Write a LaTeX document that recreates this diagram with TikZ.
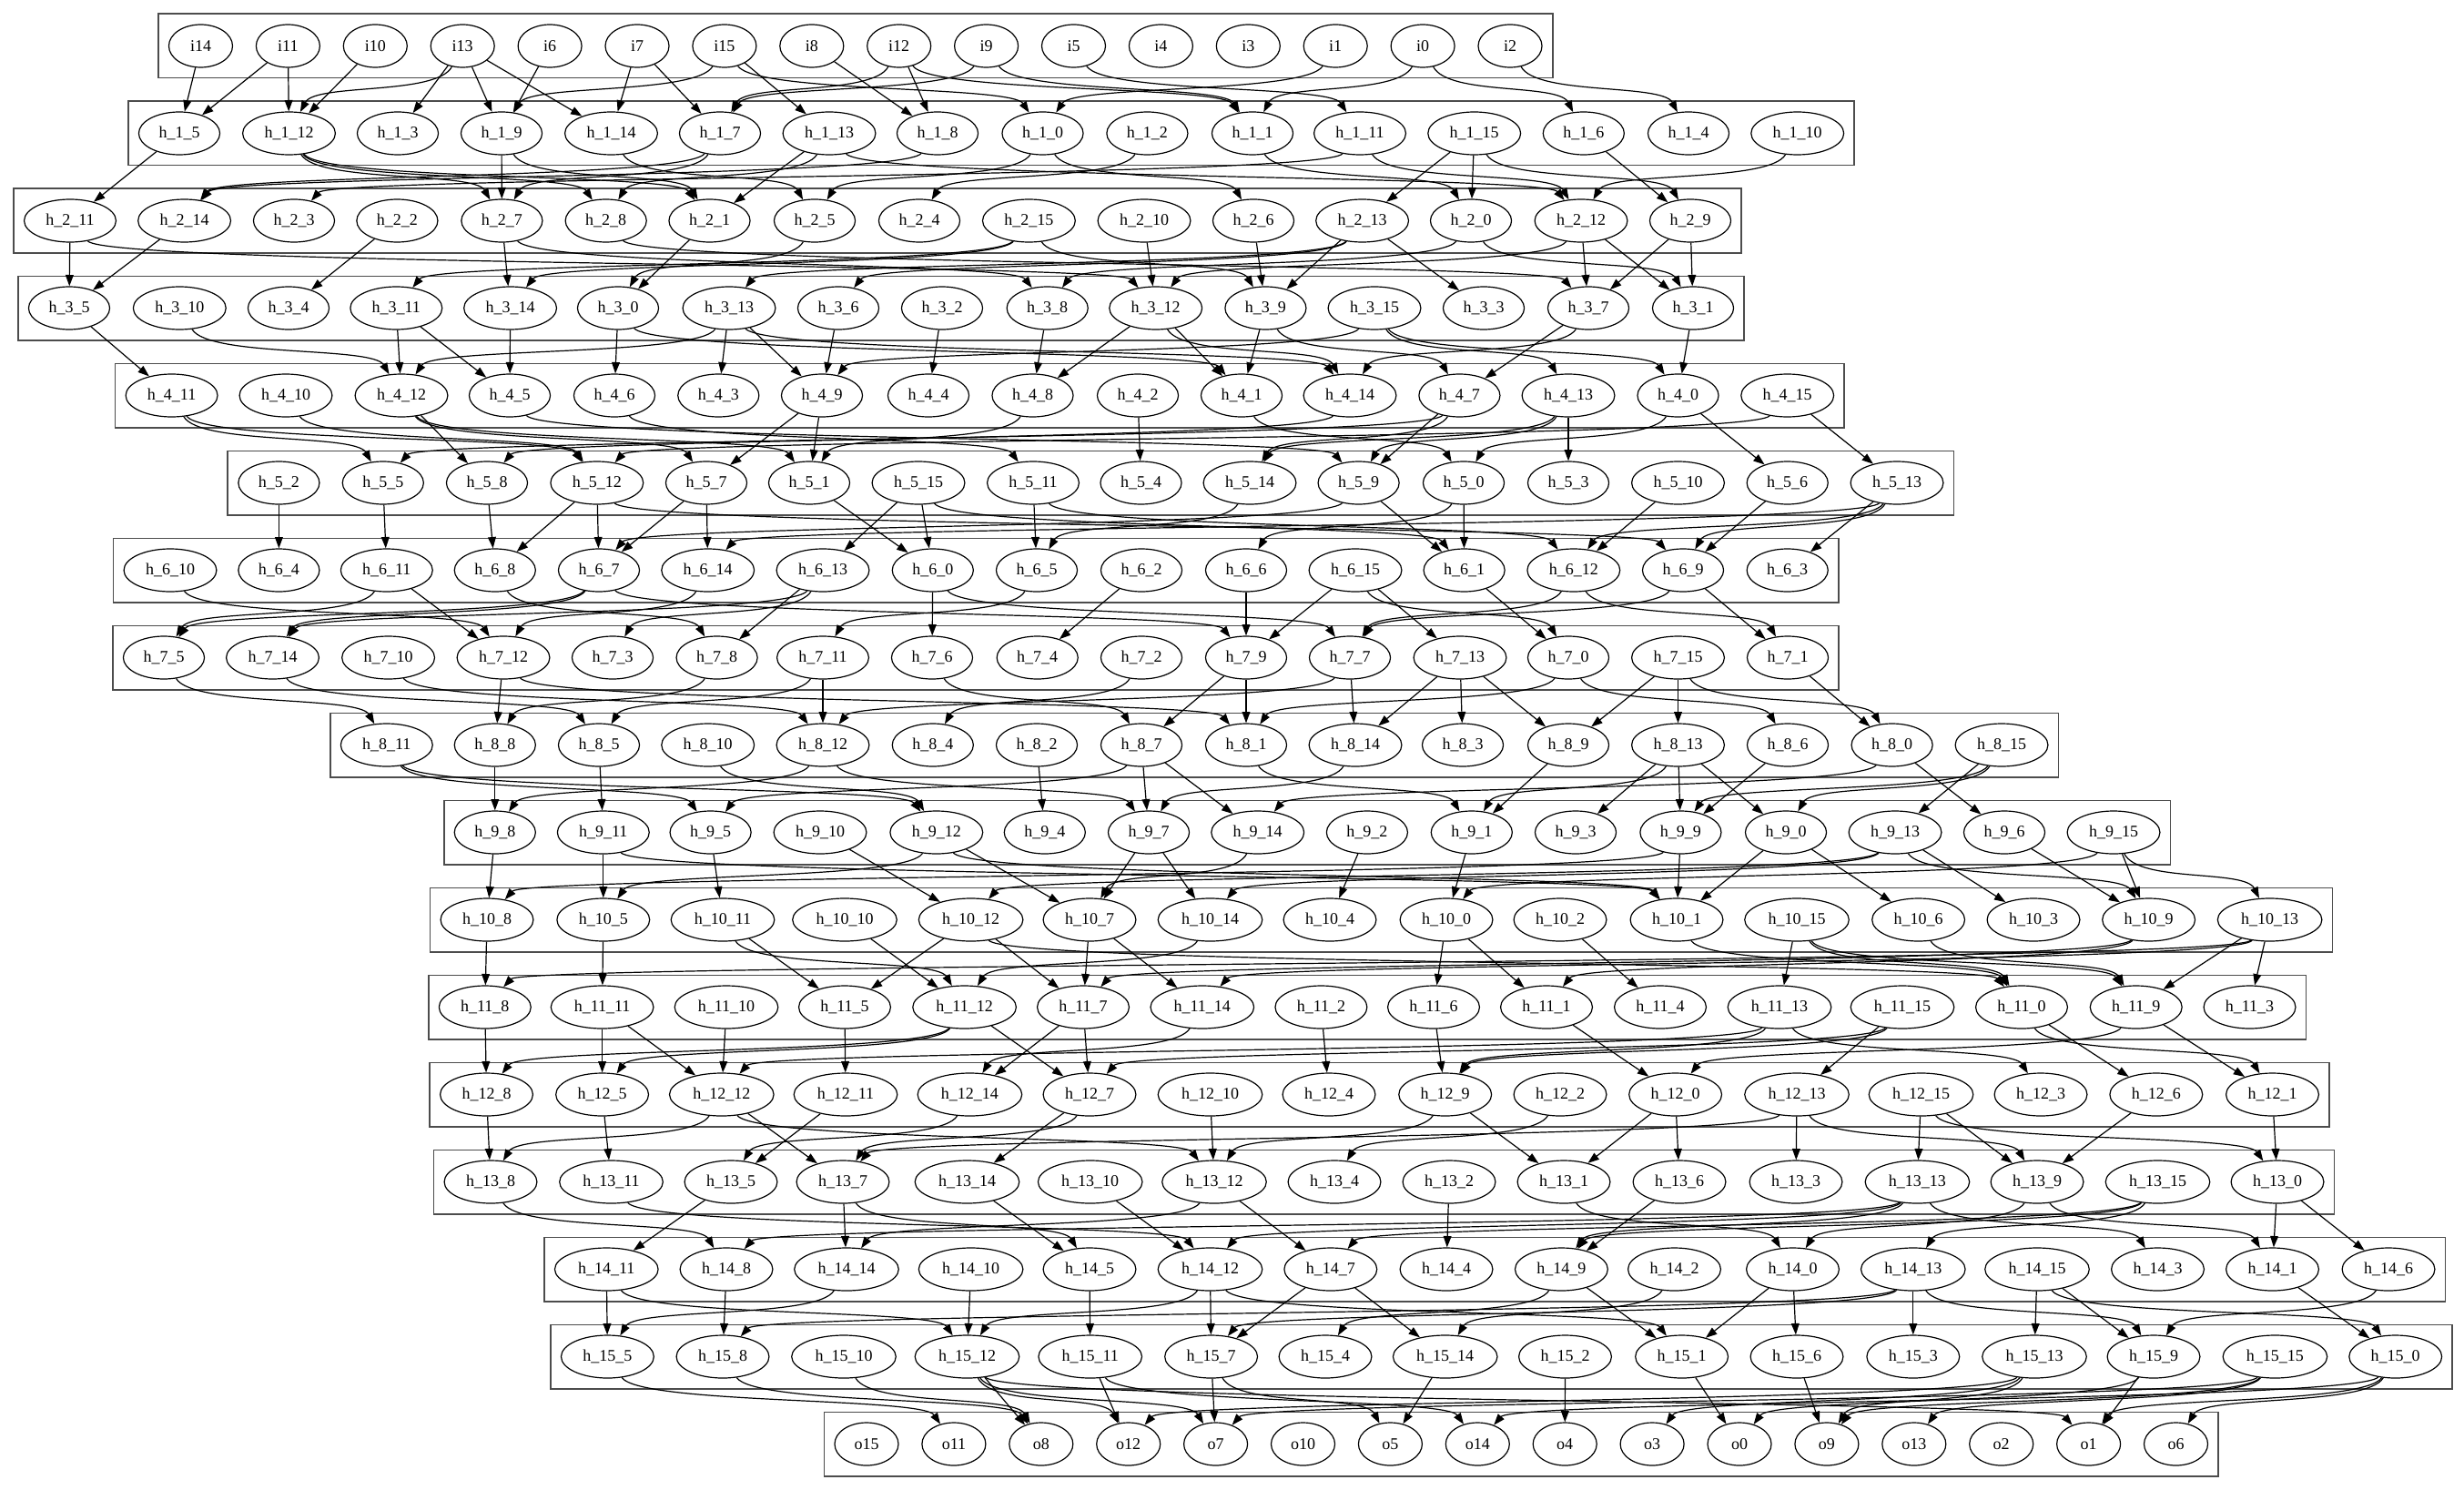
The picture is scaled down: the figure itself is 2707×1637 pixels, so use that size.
\documentclass[tikz,border=0pt]{standalone}
\usepackage{fontspec}
\setmainfont{Liberation Serif}
\usetikzlibrary{shapes.geometric,arrows.meta,fit,backgrounds}
\tikzset{
  nd/.style={ellipse, draw, line width=0.6pt, inner xsep=4.5pt, inner ysep=2pt,
    minimum width=35pt, minimum height=23.5pt, font=\fontsize{9}{10}\selectfont},
  ed/.style={line width=0.6pt, -{Triangle[length=6.2pt,width=4.4pt]}},
  rowbox/.style={draw=black!70, line width=0.9pt, rectangle, inner sep=5.5pt}
}
\newcommand\MkNode[3]{%
  \ifnum#1=0 \def\mylab{i#2}\else\ifnum#1=16 \def\mylab{o#2}\else\def\mylab{h\_#1\_#2}\fi\fi
  \node[nd] (n-#1-#2) at (#3,{50.5+96*#1}) {\mylab};%
  \expandafter\xdef\csname X-#1-#2\endcsname{#3}}
\newcommand\MkRow[2]{\foreach \j/\x in {#2}{\MkNode{#1}{\j}{\x}}}
\newcommand\MkEdge[4]{%
  \pgfmathsetmacro\mydx{\csname X-#3-#4\endcsname-(\csname X-#1-#2\endcsname)}%
  \pgfmathtruncatemacro\mystr{abs(\mydx)<170}%
  \ifnum\mystr=1
    \draw[ed] (n-#1-#2) -- (n-#3-#4);%
  \else
    \pgfmathsetmacro\myr{\mydx/(abs(\mydx)+120)}%
    \pgfmathsetmacro\myoa{-90+45*\myr}%
    \pgfmathsetmacro\myia{90+45*\myr}%
    \draw[ed] (n-#1-#2) to[out=\myoa,in=\myia,max distance=18pt] (n-#3-#4);%
  \fi}
\newcommand\MkLayer[2]{\pgfmathtruncatemacro\mykp{#1-1}\foreach \s/\t in {#2}{\MkEdge{\mykp}{\s}{#1}{\t}}}
\begin{document}
\begin{tikzpicture}[x=0.5pt,y=-0.5pt]
\useasboundingbox (0,0) rectangle (2707,1637);
\MkRow{0}{14/220.5,11/316.4,10/412.3,13/508.2,6/604.1,7/700,15/795.9,8/891.8,12/987.7,9/1083.6,5/1179.5,4/1275.4,3/1371.3,1/1467.2,0/1563.1,2/1659}
\MkRow{1}{5/197,12/317.5,3/437,9/551,14/671.5,7/791,13/911,8/1030,0/1145.5,2/1260.4,1/1376,11/1494,15/1619.7,6/1739.8,4/1855,10/1974.7}
\MkRow{2}{11/77,14/202.6,3/323,2/436.4,7/551.4,8/665.7,1/779.5,5/895,4/1010,15/1130.4,10/1257,6/1377,13/1496.6,0/1616,12/1737,9/1857}
\MkRow{3}{5/76,10/197.3,4/317,11/435.3,14/560.6,0/679,13/801,6/921,2/1035,8/1150.7,12/1269.7,9/1390.4,15/1510,3/1630,7/1745,1/1860}
\MkRow{4}{11/188.6,10/314,12/441,5/560,6/675,3/789.3,9/903,4/1020,8/1134.5,2/1250,1/1364,14/1483,7/1603.4,13/1723,0/1843.5,15/1963.7}
\MkRow{5}{2/306.4,5/420.8,8/535,12/655.8,7/776,1/889,15/1009,11/1135,4/1253.5,14/1373,9/1492.6,0/1608,3/1723,10/1843.5,6/1963.7,13/2084}
\MkRow{6}{10/187,4/306.4,11/424.8,8/543.8,7/658,14/777.7,13/904,0/1024.8,5/1139,2/1254,6/1369,15/1489,1/1608.6,12/1728.8,9/1849,3/1963.7}
\MkRow{7}{5/180,14/299.5,10/426.6,12/553,3/673,8/787.6,11/904,6/1024,4/1139.7,2/1254,9/1369,7/1483,13/1604,0/1723,15/1843.5,1/1964}
\MkRow{8}{11/424.8,8/543.8,5/658,10/777.7,12/904,4/1024.8,2/1139,7/1254,1/1369,14/1489,3/1607,9/1723,13/1843.5,6/1964,0/2078.6,15/2199}
\MkRow{9}{8/543.8,11/662.8,5/780.6,10/901,12/1028.8,4/1147.8,7/1262,14/1381.7,2/1501.9,1/1616.8,3/1731,9/1846.4,0/1962,13/2082,6/2202,15/2322}
\MkRow{10}{8/535,5/662.8,11/794,10/928,12/1066.6,7/1197,14/1329.5,4/1461,0/1589,2/1714,1/1842,15/1974,6/2107.6,3/2234,9/2360.6,13/2493.6}
\MkRow{11}{8/532.8,11/661.6,10/798,5/928,12/1059.6,7/1190,14/1320.8,2/1451.4,6/1575,1/1699,4/1824,13/1955,15/2090,0/2221,9/2346.7,3/2471.5}
\MkRow{12}{8/534.5,5/661.6,12/792.8,11/929,14/1065.4,7/1197,10/1329.5,4/1460,9/1587.7,2/1714,0/1840.6,13/1974,15/2110.5,3/2242,6/2368.8,1/2496.5}
\MkRow{13}{8/539,11/671.5,5/803,7/926,14/1062.5,10/1197.7,12/1334,4/1466,2/1592,1/1718,6/1845,3/1973,13/2106.4,9/2238,15/2370.5,0/2502}
\MkRow{14}{11/666.3,8/798,14/930,10/1066.6,5/1197,12/1329.5,7/1461.8,4/1589,9/1715.4,2/1839.5,0/1969.5,13/2101.8,15/2238,3/2370.5,1/2496.5,6/2624}
\MkRow{15}{5/667.4,8/794,10/927,12/1062.5,11/1197.7,7/1330.6,4/1456,14/1587.7,2/1719.5,1/1847.6,6/1974,3/2101.8,13/2235,9/2366,15/2499.4,0/2631.7}
\MkRow{16}{15/952,11/1047.9,8/1143.8,12/1239.7,7/1335.6,10/1431.5,5/1527.4,14/1623.3,4/1719.2,3/1815.1,0/1911,9/2006.9,13/2102.8,2/2198.7,1/2294.6,6/2390.5}
\begin{pgfonlayer}{background}
\fill[white] (0,0) rectangle (2707,1637);
\foreach \k/\a/\b in {0/14/2,1/5/10,2/11/9,3/5/1,4/11/15,5/2/13,6/10/3,7/5/1,8/11/15,9/8/15,10/8/13,11/8/3,12/8/1,13/8/0,14/11/6,15/5/0,16/15/6}
  {\node[rowbox, fit=(n-\k-\a.west)(n-\k-\b.east)(n-\k-\a.north)(n-\k-\a.south)] (box-\k) {};}
\end{pgfonlayer}
\MkLayer{1}{14/5,11/5,11/12,10/12,13/12,13/3,13/9,13/14,6/9,7/14,7/7,15/9,15/13,15/0,8/8,12/8,12/7,12/1,9/7,9/1,5/11,1/0,0/1,0/6,2/4}
\MkLayer{2}{5/11,12/7,12/8,12/1,9/7,9/1,14/5,7/14,7/7,13/8,13/1,13/12,8/14,11/3,11/12,0/5,0/6,2/4,1/0,15/13,15/0,15/9,6/9,10/12}
\MkLayer{3}{11/5,11/12,14/5,2/4,7/14,7/8,8/7,1/0,5/0,15/11,15/14,15/9,13/13,13/6,13/9,13/3,10/12,6/9,0/8,0/1,12/12,12/7,12/1,9/7,9/1}
\MkLayer{4}{5/11,10/12,11/12,11/5,14/5,0/6,0/1,13/12,13/3,13/9,13/14,6/9,2/4,8/8,12/8,12/1,12/14,9/1,9/7,15/9,15/13,15/0,7/14,7/7,1/0}
\MkLayer{5}{11/5,11/12,10/12,12/8,12/7,12/1,5/9,6/11,9/7,9/1,8/1,2/4,1/0,14/8,7/5,7/14,7/9,13/9,13/14,13/3,0/0,0/6,15/12,15/13}
\MkLayer{6}{2/4,5/11,8/8,12/8,12/7,12/9,7/7,7/14,1/0,15/13,15/0,15/1,11/5,11/12,14/5,9/7,9/1,0/1,0/6,10/12,6/9,13/12,13/9,13/3,13/14}
\MkLayer{7}{10/12,11/5,11/12,8/8,7/5,7/14,7/9,14/12,13/14,13/3,13/8,0/6,0/7,5/11,2/4,6/9,15/9,15/13,15/0,1/0,12/7,12/1,9/7,9/1}
\MkLayer{8}{5/11,14/5,10/12,12/8,12/1,8/8,11/5,11/12,6/7,2/4,9/7,9/1,7/12,7/14,13/14,13/3,13/9,0/1,0/6,15/9,15/13,15/0,1/0}
\MkLayer{9}{11/5,11/12,8/8,5/11,10/12,12/8,12/7,2/4,7/7,7/14,7/5,14/7,1/1,9/1,13/9,13/0,13/3,13/1,6/9,0/6,0/14,15/9,15/0,15/13}
\MkLayer{10}{8/8,11/5,11/1,5/11,10/12,12/5,12/7,12/1,7/7,7/14,14/7,2/4,1/0,9/1,9/8,0/1,0/6,13/12,13/14,13/3,13/9,6/9,15/0,15/9,15/13}
\MkLayer{11}{8/8,5/11,11/5,11/12,10/12,12/5,12/7,12/0,7/7,7/14,14/12,0/6,0/1,2/4,1/0,15/13,15/0,15/9,6/9,9/7,9/1,13/14,13/8,13/9,13/3}
\MkLayer{12}{8/8,11/5,11/12,10/12,5/11,12/8,12/5,12/7,7/14,7/7,14/14,2/4,6/9,1/0,13/12,13/9,13/3,15/7,15/9,15/13,0/6,0/1,9/0,9/1}
\MkLayer{13}{8/8,5/11,12/8,12/7,12/12,11/5,14/5,7/7,7/14,10/12,9/12,9/1,2/4,0/6,0/1,13/7,13/3,13/9,15/13,15/9,15/0,6/9,1/0}
\MkLayer{14}{8/8,11/12,5/11,7/14,7/5,14/5,10/12,12/14,12/7,2/4,1/0,13/8,13/12,13/9,13/3,15/13,15/9,15/7,9/0,9/1,0/1,0/6,6/9}
\MkLayer{15}{11/5,11/12,8/8,14/5,10/12,5/11,12/12,12/7,12/1,7/7,7/14,9/4,9/1,2/14,0/1,0/6,13/8,13/7,13/3,13/9,15/13,15/9,15/0,6/9,1/0}
\MkLayer{16}{5/11,8/8,10/8,12/8,12/12,12/7,12/1,11/12,11/14,7/7,7/5,14/5,2/4,1/0,6/9,13/12,13/3,13/9,9/0,9/1,15/7,15/9,15/13,0/14,0/1,0/6}
\end{tikzpicture}
\end{document}
